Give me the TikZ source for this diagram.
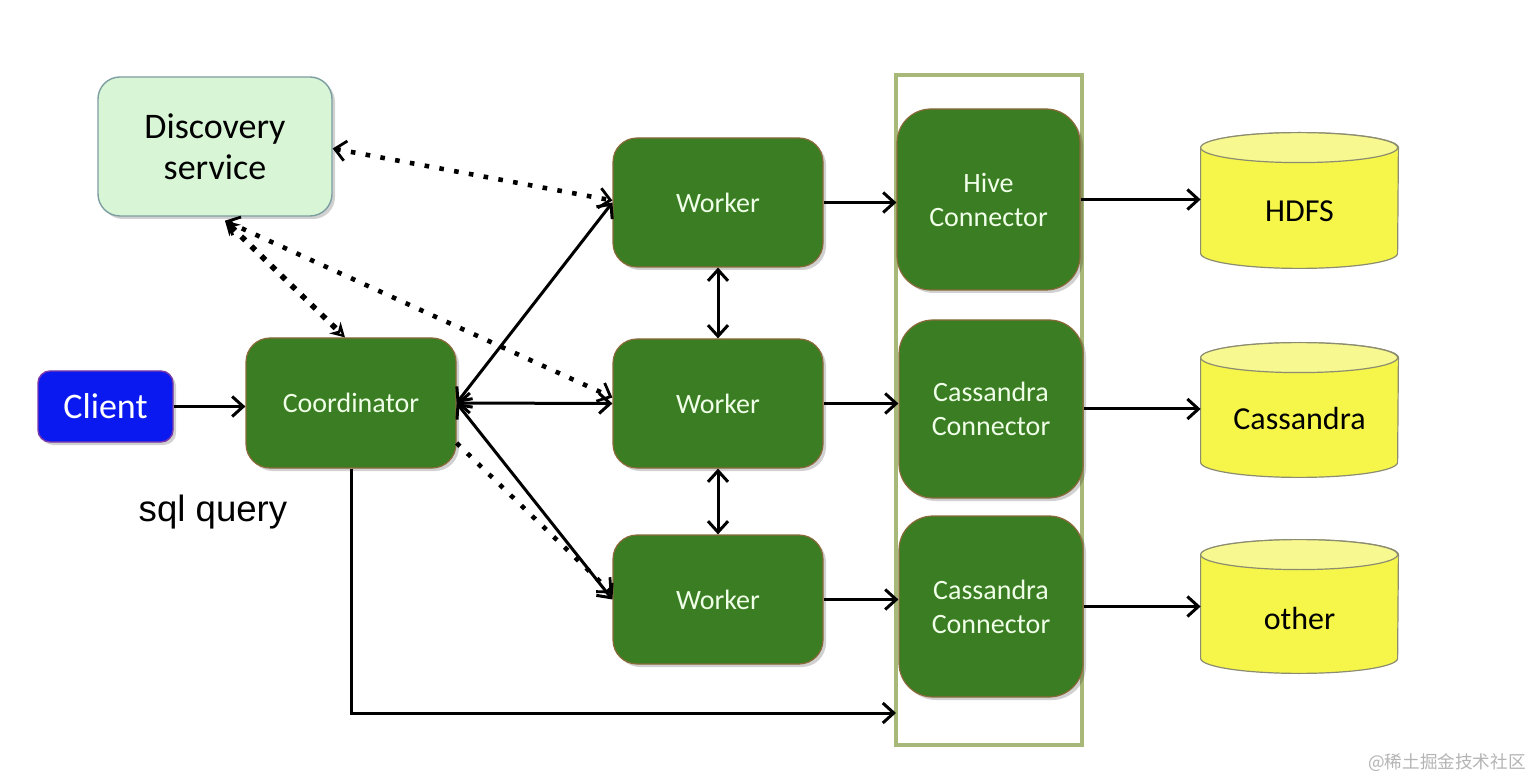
\documentclass[tikz,border=0pt]{standalone}
\usepackage{fontspec}
\setmainfont{Carlito}
\newfontfamily\arialf{Liberation Sans}
\newfontfamily\cjkf{Noto Sans CJK SC}
\usetikzlibrary{arrows.meta,shadows,calc,backgrounds}
\definecolor{gfill}{HTML}{3A7D22}
\definecolor{gborder}{HTML}{8A6A3A}
\definecolor{gtext}{HTML}{F0FFE8}
\definecolor{dfill}{HTML}{D8F6D6}
\definecolor{dborder}{HTML}{7C9EA0}
\definecolor{cfill}{HTML}{0A19F0}
\definecolor{cborder}{HTML}{7A3AA8}
\definecolor{yfill}{HTML}{F6F64A}
\definecolor{ytop}{HTML}{F8F890}
\definecolor{yborder}{HTML}{8C8C70}
\definecolor{frame}{HTML}{A8B878}
\definecolor{wmark}{HTML}{B4B4B4}
\tikzset{
  shade/.style={drop shadow={shadow xshift=1.5pt,shadow yshift=-1.5pt,opacity=0.18,fill=black}},
  greenbox/.style={shade,draw=gborder,line width=0.6pt,fill=gfill,text=gtext,align=center,font=\fontsize{14}{17}\selectfont,inner sep=0pt},
  discbox/.style={shade,draw=dborder,line width=0.7pt,fill=dfill,rounded corners=11pt,align=center,font=\fontsize{18}{20.5}\selectfont,inner sep=0pt},
  clientbox/.style={shade,draw=cborder,line width=0.7pt,fill=cfill,text=white,rounded corners=6pt,font=\fontsize{18}{21}\selectfont,inner sep=0pt},
  dbnode/.style={inner sep=0pt,minimum width=98.5pt,font=\fontsize{16}{19}\selectfont},
  cylfill/.style={fill=yfill,draw=yborder,line width=0.6pt},
  cyltop/.style={fill=ytop,draw=yborder,line width=0.6pt},
  tip/.style={Straight Barb[length=5.5pt,width=10pt,line width=1.4pt]},
  arr/.style={line width=1.5pt,-{Straight Barb[length=5.5pt,width=10pt]}},
  arrboth/.style={line width=1.5pt,{Straight Barb[length=5.5pt,width=10pt]}-{Straight Barb[length=5.5pt,width=10pt]}},
  dotarr/.style={line width=2.3pt,dash pattern=on 2.3pt off 5.2pt,{Straight Barb[length=5.5pt,width=10pt,line width=1.4pt]}-{Straight Barb[length=5.5pt,width=10pt,line width=1.4pt]}},
  dotone/.style={line width=2.3pt,dash pattern=on 2.3pt off 5.2pt,-{Straight Barb[length=5.5pt,width=10pt,line width=1.4pt]}},
  thickdot/.style={line width=2.8pt,dash pattern=on 2.8pt off 4.2pt,{Stealth[length=7pt,width=8pt,open,line width=1.4pt]}-{Stealth[length=7pt,width=8pt,open,line width=1.4pt]}}
}
\newcommand\dbcyl[1]{%
  \path[cylfill] ($(#1.north west)+(0,15)$) -- ($(#1.south west)+(0,-15)$)
     arc[start angle=180,end angle=360,x radius=49.25pt,y radius=7.5pt]
     -- ($(#1.north east)+(0,15)$)
     arc[start angle=0,end angle=180,x radius=49.25pt,y radius=7.5pt] -- cycle;
  \path[cyltop] ($(#1.north west)+(0,15)$)
     arc[start angle=180,end angle=540,x radius=49.25pt,y radius=7.5pt];
}
\begin{document}
\begin{tikzpicture}[x=0.5pt,y=-0.5pt]
\useasboundingbox (0,0) rectangle (1536,780);

% frame
\draw[frame,line width=2pt] (896,75) rectangle (1082,745);

% nodes
\node[discbox,minimum width=117pt,minimum height=69.5pt] (disc) at (215,146.5) {Discovery\\service};
\node[clientbox,minimum width=67.5pt,minimum height=35.5pt] (client) at (105.5,406.5) {Client};
\node[greenbox,rounded corners=12pt,minimum width=105pt,minimum height=65pt] (coord) at (351,403) {Coordinator};
\node[greenbox,rounded corners=12pt,minimum width=105pt,minimum height=64.5pt] (w1) at (718,202.5) {Worker};
\node[greenbox,rounded corners=12pt,minimum width=105pt,minimum height=64.5pt] (w2) at (718,403.5) {Worker};
\node[greenbox,rounded corners=12pt,minimum width=105pt,minimum height=64.5pt] (w3) at (718,599.5) {Worker};
\node[greenbox,rounded corners=17pt,minimum width=91.5pt,minimum height=90.5pt] (hive) at (988.5,199.5) {Hive\\Connector};
\node[greenbox,rounded corners=17pt,minimum width=92pt,minimum height=89pt] (cas1) at (991,409) {Cassandra\\Connector};
\node[greenbox,rounded corners=17pt,minimum width=92pt,minimum height=90.5pt] (cas2) at (991,606.5) {Cassandra\\Connector};

\node[dbnode,minimum height=67.5pt] (hdfs) at (1299.5,200.5) {};
\node[dbnode,minimum height=67pt] (cdb) at (1299.5,410) {};
\node[dbnode,minimum height=66.5pt] (other) at (1299.5,606.5) {};
\begin{scope}[on background layer]
\fill[white] (0,0) rectangle (1536,780);
\dbcyl{hdfs}
\dbcyl{cdb}
\dbcyl{other}
\end{scope}
\node[dbnode] (hdfst) at ($(hdfs)+(0,11)$) {HDFS};
\node[dbnode] (cdbt) at ($(cdb)+(0,9)$) {Cassandra};
\node[dbnode] (othert) at ($(other)+(0,12)$) {other};

\node[font=\arialf\fontsize{18.3}{20}\selectfont,inner sep=0pt] (sql) at (213,512) {sql query};
\node[font=\cjkf\fontsize{8.8}{10}\selectfont,text=wmark,anchor=east,inner sep=0pt] (wm) at (1526,763) {@稀土掘金技术社区};

% coordinates
\coordinate (ds) at ($(disc.south)+(5pt,-2pt)$);
\coordinate (fb) at (896,713);

% connectors
\draw[arr] (client.east) -- (coord.west |- client.east);
\draw[arrboth] (coord.east) -- (w1.west);
\draw[arrboth] (coord.east) -- (w2.west);
\draw[arrboth] (coord.east) -- (w3.west);
\draw[arrboth] (w1.south) -- (w2.north);
\draw[arrboth] (w2.south) -- (w3.north);
\draw[arr] (w1.east) -- (w1.east -| hive.west);
\draw[arr] (w2.east) -- (w2.east -| cas1.west);
\draw[arr] (w3.east) -- (w3.east -| cas2.west);
\draw[arr] (hive.east) -- (hive.east -| hdfs.west);
\draw[arr] (cas1.east) -- (cas1.east -| cdb.west);
\draw[arr] (cas2.east) -- (cas2.east -| other.west);
\draw[arr] (coord.south) |- (fb);

\draw[dotarr] ([yshift=-1pt]disc.east) -- ([yshift=1pt]w1.west);
\draw[dotarr] (ds) -- ([yshift=3pt]w2.west);
\draw[thickdot] (ds) -- ([xshift=-3pt]coord.north);
\draw[dotone] ([yshift=-20pt]coord.east) -- ([yshift=3pt]w3.west);
\end{tikzpicture}
\end{document}
